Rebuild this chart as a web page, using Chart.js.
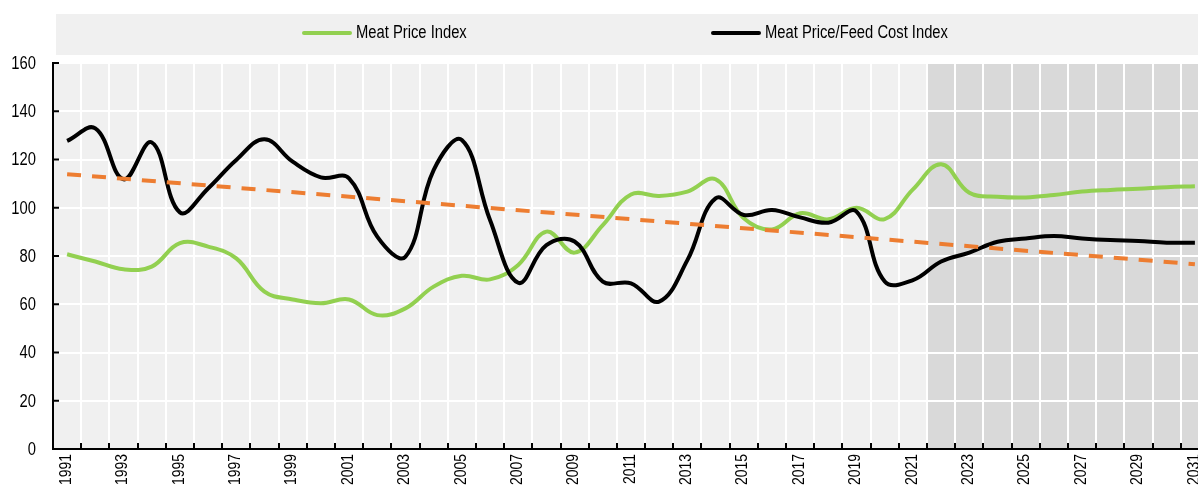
<!DOCTYPE html>
<html lang="en">
  <head>
    <meta charset="UTF-8" />
    <title>Meat price indices</title>
    <script src="https://cdn.jsdelivr.net/npm/chart.js"></script>
    <style>
      html, body { margin: 0; padding: 0; background: #fff; overflow: hidden; }
      #wrap { width: 1209px; height: 486px; }
    </style>
  </head>
  <body>
    <div id="wrap"><canvas id="myChart" width="1209" height="486"></canvas></div>
    <script>
      // Years on the category axis (projection starts in 2022)
      const years = [
        "1991", "1992", "1993", "1994", "1995", "1996", "1997", "1998", "1999", "2000",
        "2001", "2002", "2003", "2004", "2005", "2006", "2007", "2008", "2009", "2010",
        "2011", "2012", "2013", "2014", "2015", "2016", "2017", "2018", "2019", "2020",
        "2021", "2022", "2023", "2024", "2025", "2026", "2027", "2028", "2029", "2030", "2031"
      ];
      const projectionStart = "2022";

      const meatPriceIndex = [
        80.7, 77.7, 74.5, 75.6, 85.3, 83.9, 79.0, 65.2, 62.0, 60.4,
        62.0, 55.5, 58.3, 67.3, 71.8, 70.3, 76.3, 90.1, 81.4, 92.8,
        105.5, 104.9, 106.7, 111.8, 95.6, 91.0, 97.7, 95.2, 100.0, 95.3,
        107.6, 118.0, 106.2, 104.6, 104.3, 105.3, 106.7, 107.4, 107.9, 108.5, 108.9
      ];

      const meatFeedIndex = [
        127.7, 132.9, 111.8, 127.1, 98.1, 108.0, 119.8, 128.4, 119.1, 112.6,
        112.2, 88.0, 79.7, 115.6, 128.1, 94.9, 68.9, 84.5, 86.0, 69.4,
        68.7, 61.1, 78.3, 103.9, 97.0, 99.1, 96.0, 93.8, 98.4, 69.4,
        70.0, 77.7, 81.4, 85.9, 87.3, 88.3, 87.3, 86.6, 86.2, 85.5, 85.5
      ];

      // linear trend of the ratio: only the two end values, the line spans the gap
      const trendStart = 113.9;
      const trendEnd = 76.6;
      const trendLine = years.map((y, i) =>
        i === 0 ? trendStart : i === years.length - 1 ? trendEnd : null
      );

      const yTicks = [0, 20, 40, 60, 80, 100, 120, 140, 160];

      const FONT = '"Liberation Sans", Arial, sans-serif';
      const NARROW = 0.82; // no Arial Narrow here, so squeeze the regular face
      Chart.defaults.font.family = FONT;
      Chart.defaults.color = "#000";

      function narrowText(ctx, text, x, y, size, align, rotate) {
        ctx.save();
        ctx.translate(x, y);
        if (rotate) ctx.rotate(-Math.PI / 2);
        ctx.scale(NARROW, 1);
        ctx.font = size + "px " + FONT;
        ctx.fillStyle = "#000";
        ctx.textAlign = align;
        ctx.textBaseline = "middle";
        ctx.fillText(text, 0, 0);
        ctx.restore();
      }

      // backgrounds, legend strip, inward tick marks and condensed tick labels
      const decor = {
        id: "decor",
        beforeDraw(chart) {
          const { ctx, chartArea: a, scales } = chart;
          const x = scales.x;
          ctx.save();
          ctx.fillStyle = "#f0f0f0";
          ctx.fillRect(a.left, a.top, a.right - a.left, a.bottom - a.top);
          const half = (x.getPixelForValue(1) - x.getPixelForValue(0)) / 2;
          const px = x.getPixelForValue(years.indexOf(projectionStart)) - half;
          ctx.fillStyle = "#d9d9d9";
          ctx.fillRect(px, a.top, a.right - px, a.bottom - a.top);

          // legend
          ctx.fillStyle = "#f0f0f0";
          ctx.fillRect(56, 14, chart.width - 56, 41);
          const items = [
            { ds: chart.data.datasets[2], x: 303 },
            { ds: chart.data.datasets[1], x: 712 }
          ];
          items.forEach((it) => {
            ctx.strokeStyle = it.ds.borderColor;
            ctx.lineWidth = 4;
            ctx.lineCap = "round";
            ctx.beginPath();
            ctx.moveTo(it.x + 1, 33);
            ctx.lineTo(it.x + 47, 33);
            ctx.stroke();
            narrowText(ctx, it.ds.label, it.x + 53, 33, 18, "left", false);
          });
          ctx.restore();
        },
        beforeDatasetsDraw(chart) {
          const { ctx, chartArea: a, scales } = chart;
          ctx.save();
          ctx.strokeStyle = "#000";
          ctx.lineWidth = 2;
          ctx.beginPath();
          yTicks.forEach((v) => {
            const py = scales.y.getPixelForValue(v);
            ctx.moveTo(a.left, py);
            ctx.lineTo(a.left + 6, py);
          });
          const half = (scales.x.getPixelForValue(1) - scales.x.getPixelForValue(0)) / 2;
          for (let i = 1; i < years.length; i++) {
            const px = Math.round(scales.x.getPixelForValue(i) - half);
            ctx.moveTo(px, a.bottom);
            ctx.lineTo(px, a.bottom - 6);
          }
          ctx.stroke();
          ctx.restore();

          // tick labels
          yTicks.forEach((v) => {
            narrowText(ctx, String(v), a.left - 17, scales.y.getPixelForValue(v) + 1, 18, "right", false);
          });
          years.forEach((yr, i) => {
            if (i % 2 === 0) {
              narrowText(ctx, yr, scales.x.getPixelForValue(i) - 1, a.bottom + 5, 17, "right", true);
            }
          });
        }
      };

      const ctx = document.getElementById("myChart").getContext("2d");
      const myChart = new Chart(ctx, {
        type: "line",
        data: {
          labels: years,
          datasets: [
            {
              label: "Trend",
              data: trendLine,
              borderColor: "#ED7D31",
              borderWidth: 4,
              borderDash: [14, 11],
              spanGaps: true,
              pointRadius: 0,
              order: 0
            },
            {
              label: "Meat Price/Feed Cost Index",
              data: meatFeedIndex,
              borderColor: "#000000",
              borderWidth: 4,
              tension: 0.4,
              pointRadius: 0,
              order: 1
            },
            {
              label: "Meat Price Index",
              data: meatPriceIndex,
              borderColor: "#92D050",
              borderWidth: 4,
              tension: 0.4,
              pointRadius: 0,
              order: 2
            }
          ]
        },
        options: {
          responsive: false,
          animation: false,
          devicePixelRatio: 1,
          layout: { padding: { top: 63, left: 0, right: 0, bottom: 0 } },
          plugins: {
            legend: { display: false },
            tooltip: { enabled: false }
          },
          scales: {
            x: {
              offset: true,
              grid: { offset: true, color: "#ffffff", lineWidth: 2, drawTicks: false },
              border: { color: "#000", width: 2 },
              ticks: { display: false, autoSkip: false },
              afterFit: function (scale) {
                scale.height = 37;
              }
            },
            y: {
              min: 0,
              max: 160,
              grid: { color: "#ffffff", lineWidth: 2, drawTicks: false },
              border: { color: "#000", width: 2 },
              ticks: { display: false, stepSize: 20 },
              afterFit: function (scale) {
                scale.width = 53;
              }
            }
          }
        },
        plugins: [decor]
      });
    </script>
  </body>
</html>
